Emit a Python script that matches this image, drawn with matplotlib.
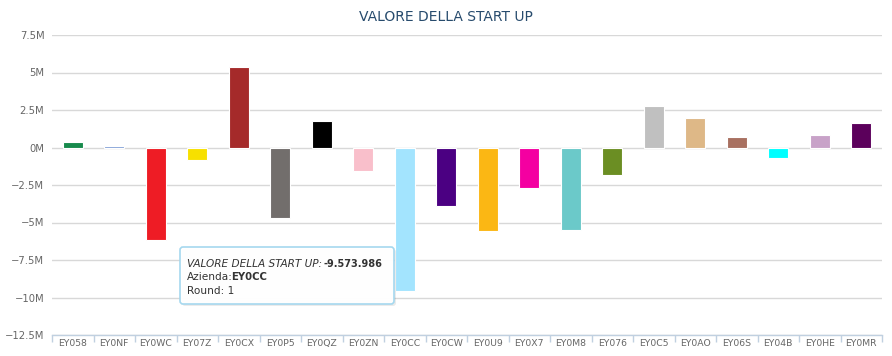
import matplotlib
matplotlib.use("Agg")
import matplotlib.pyplot as plt
from matplotlib.patches import FancyBboxPatch
from matplotlib.ticker import FixedLocator, NullFormatter
import numpy as np

categories = ["EY058", "EY0NF", "EY0WC", "EY07Z", "EY0CX", "EY0P5", "EY0QZ", "EY0ZN",
              "EY0CC", "EY0CW", "EY0U9", "EY0X7", "EY0M8", "EY076", "EY0C5", "EY0AO",
              "EY06S", "EY04B", "EY0HE", "EY0MR"]
values = [0.38, 0.10, -6.15, -0.85, 5.38, -4.70, 1.76, -1.57,
          -9.573986, -3.93, -5.54, -2.73, -5.47, -1.85, 2.79, 1.94,
          0.67, -0.67, 0.84, 1.65]  # millions
colors = ["#178a4c", "#86a4d8", "#ee1c25", "#f7e000", "#a52a2a", "#726e6c", "#000000", "#f9bfcb",
          "#a3e4fe", "#4b0082", "#fbb714", "#f400a1", "#6bc9c9", "#6b8e23", "#c0c0c0", "#deb887",
          "#a87060", "#00ffff", "#c8a2c8", "#5b005b"]
yticks = [-12.5, -10, -7.5, -5, -2.5, 0, 2.5, 5, 7.5]
ytick_labels = ["−12.5M", "−10M", "−7.5M", "−5M", "−2.5M", "0M", "2.5M", "5M", "7.5M"]
title = "VALORE DELLA START UP"
tooltip_series = "VALORE DELLA START UP:"
tooltip_value = "-9.573.986"
tooltip_company = "EY0CC"
tooltip_round = "Round: 1"

W, H = 892, 356
fig = plt.figure(figsize=(W / 100, H / 100), dpi=100)
fig.patch.set_facecolor("white")
ax = fig.add_axes([52 / W, 1 - 335 / H, (882 - 52) / W, (335 - 35) / H])

x = np.arange(len(categories))
ax.bar(x, values, width=0.49, color=colors, edgecolor="white", linewidth=0.8, zorder=3)

ax.set_xlim(-0.5, len(categories) - 0.5)
ax.set_ylim(-12.5, 7.5)
ax.set_yticks(yticks)
ax.set_yticklabels(ytick_labels)
ax.yaxis.grid(True, color="#d8d8d8", linewidth=1, zorder=0)
ax.tick_params(axis="y", length=0, pad=5.5, labelsize=7.2, labelcolor="#666666")

ax.set_xticks(x)
ax.set_xticklabels(categories)
ax.tick_params(axis="x", which="major", length=0, pad=3, labelsize=6.7, labelcolor="#666666")
ax.xaxis.set_minor_locator(FixedLocator(np.arange(-0.5, len(categories), 1.0)))
ax.xaxis.set_minor_formatter(NullFormatter())
ax.tick_params(axis="x", which="minor", length=5, width=1, color="#c0d0e0", direction="out")

for s in ["top", "right", "left"]:
    ax.spines[s].set_visible(False)
ax.spines["bottom"].set_color("#c0d0e0")
ax.spines["bottom"].set_linewidth(1)
ax.spines["bottom"].set_position(("data", -12.5))

fig.text(446 / W, 1 - 17 / H, title, ha="center", va="center", fontsize=10,
         color="#274b6d")

# tooltip
x0, y0, x1, y1 = 180, 247, 394, 304
shadow = FancyBboxPatch((x0 + 2, H - y1 - 2), x1 - x0, y1 - y0,
                        boxstyle="round,pad=0,rounding_size=3",
                        transform=None, facecolor="#000000", alpha=0.08,
                        edgecolor="none", zorder=9)
box = FancyBboxPatch((x0, H - y1), x1 - x0, y1 - y0,
                     boxstyle="round,pad=0,rounding_size=3",
                     transform=None, facecolor="white", alpha=0.97,
                     edgecolor="#a3d7ee", linewidth=1.2, zorder=10)
fig.patches.extend([shadow, box])

fig.canvas.draw()
renderer = fig.canvas.get_renderer()
fs = 7.6

def put(px, py, s, size=fs, **kw):
    t = fig.text(px / W, 1 - py / H, s, fontsize=size, color="#333333",
                 va="baseline", ha="left", zorder=11, **kw)
    bb = t.get_window_extent(renderer=renderer)
    return px + bb.width

xe = put(187, 267, tooltip_series, style="italic")
put(xe + 1, 267, tooltip_value, size=7.0, weight="bold")
xe = put(187, 280, "Azienda:")
put(xe - 2, 280, tooltip_company, size=7.3, weight="bold")
put(187, 294, tooltip_round)

fig.savefig("out.png", dpi=100, facecolor="white")
